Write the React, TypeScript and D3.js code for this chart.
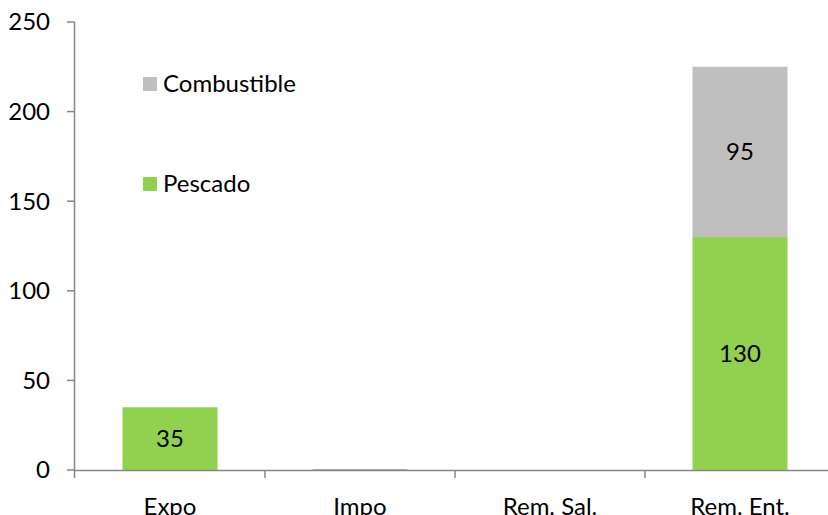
import React from "react";
import * as d3 from "d3";

const categories = ["Expo", "Impo", "Rem. Sal.", "Rem. Ent."];
const pescado = [35, 0.4, 0, 130];
const combustible = [0, 0, 0, 95];
const pescadoLabels = ["35", "", "", "130"];
const combustibleLabels = ["", "", "", "95"];
const yTicks = [0, 50, 100, 150, 200, 250];
const seriesNames = ["Combustible", "Pescado"];

const W = 828;
const H = 515;
const FONT = "Lato, Carlito, Calibri, sans-serif";
const FS = 24;
const GREEN = "#92D050";
const GRAY = "#BFBFBF";

export default function App() {
  const y = d3.scaleLinear().domain([0, 250]).range([470, 22]);
  const x = d3.scaleBand<string>().domain(categories).range([75, 835]).padding(0);
  const bw = x.bandwidth() * 0.5;

  return (
    <svg width={W} height={H} style={{ position: "absolute", left: 0, top: 0, background: "#fff" }} fontFamily={FONT}>
      {/* y axis */}
      <line x1={74.5} x2={74.5} y1={y(250)} y2={478} stroke="#868686" strokeWidth={1.5} />
      {yTicks.map((t) => (
        <g key={t}>
          <line x1={67} x2={74.5} y1={y(t)} y2={y(t)} stroke="#868686" strokeWidth={1.5} />
          <text x={50} y={y(t)} dy="0.35em" textAnchor="end" fontSize={FS} fill="#000">
            {t}
          </text>
        </g>
      ))}
      {/* bars */}
      {categories.map((c, i) => {
        const cx = (x(c) as number) + x.bandwidth() / 2;
        const x0 = cx - bw / 2;
        const p0 = y(0), p1 = y(pescado[i]);
        const c1 = y(pescado[i] + combustible[i]);
        return (
          <g key={c}>
            {pescado[i] > 0 && (
              <rect x={x0} y={p1} width={bw} height={p0 - p1} fill={i === 1 ? "#8C9178" : GREEN} />
            )}
            {combustible[i] > 0 && <rect x={x0} y={c1} width={bw} height={p1 - c1} fill={GRAY} />}
            {pescadoLabels[i] && (
              <text x={cx} y={(p0 + p1) / 2} dy="0.35em" textAnchor="middle" fontSize={FS} fill="#000">
                {pescadoLabels[i]}
              </text>
            )}
            {combustibleLabels[i] && (
              <text x={cx} y={(p1 + c1) / 2} dy="0.35em" textAnchor="middle" fontSize={FS} fill="#000">
                {combustibleLabels[i]}
              </text>
            )}
            <text x={cx} y={515} textAnchor="middle" fontSize={FS} fill="#000">
              {c}
            </text>
          </g>
        );
      })}
      {/* x axis */}
      <line x1={74.5} x2={W} y1={470.5} y2={470.5} stroke="#868686" strokeWidth={1.5} />
      {categories.map((c, i) =>
        i === 0 ? null : (
          <line key={c} x1={(x(c) as number)} x2={(x(c) as number)} y1={470.5} y2={478} stroke="#868686" strokeWidth={1.5} />
        )
      )}
      {/* legend */}
      {seriesNames.map((s, i) => (
        <g key={s}>
          <rect x={143} y={77 + i * 100} width={14} height={14} fill={i === 0 ? GRAY : GREEN} />
          <text x={163} y={84 + i * 100} dy="0.35em" fontSize={FS} fill="#000">
            {s}
          </text>
        </g>
      ))}
    </svg>
  );
}
